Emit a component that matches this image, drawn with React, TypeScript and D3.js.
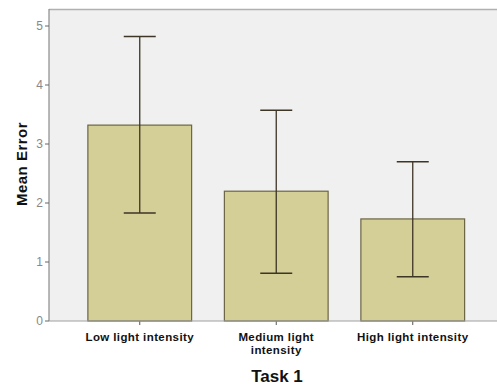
import React from 'react';
import * as d3 from 'd3';

const categories = ['Low light intensity', 'Medium light intensity', 'High light intensity'];
const labelLines = [['Low light intensity'], ['Medium light', 'intensity'], ['High light intensity']];
const means = [3.32, 2.2, 1.73];
const upper = [4.82, 3.57, 2.7];
const lower = [1.83, 0.81, 0.75];
const yTicks = [0, 1, 2, 3, 4, 5];

const width = 497;
const height = 385;
const plot = { left: 49, right: 497, top: 9, bottom: 321 };

const App = () => {
  const x = d3
    .scaleBand<string>()
    .domain(categories)
    .range([71.5, 481])
    .paddingInner(0.24)
    .paddingOuter(0.12);

  const y = d3.scaleLinear().domain([0, 5]).range([plot.bottom, 26]);
  const capW = 32;
  const font = 'Arial, "Liberation Sans", sans-serif';

  return (
    <svg
      width={width}
      height={height}
      style={{ position: 'absolute', left: 0, top: 0, background: '#fff' }}
      fontFamily={font}
    >
      <rect
        x={plot.left}
        y={plot.top}
        width={plot.right - plot.left}
        height={plot.bottom - plot.top}
        fill="#f0f0f0"
      />
      <line x1={plot.left} x2={plot.right} y1={plot.top + 0.5} y2={plot.top + 0.5} stroke="#b0b0b0" strokeWidth={1.5} />

      {categories.map((c, i) => {
        const bx = x(c)!;
        const cx = bx + x.bandwidth() / 2;
        return (
          <g key={c}>
            <rect
              x={bx}
              y={y(means[i])}
              width={x.bandwidth()}
              height={y(0) - y(means[i])}
              fill="#d4cf97"
              stroke="#6b6444"
              strokeWidth={1.2}
            />
            <line x1={cx} x2={cx} y1={y(upper[i])} y2={y(lower[i])} stroke="#3d3526" strokeWidth={1.3} />
            <line x1={cx - capW / 2} x2={cx + capW / 2} y1={y(upper[i])} y2={y(upper[i])} stroke="#3d3526" strokeWidth={1.5} />
            <line x1={cx - capW / 2} x2={cx + capW / 2} y1={y(lower[i])} y2={y(lower[i])} stroke="#3d3526" strokeWidth={1.5} />
            <line x1={cx} x2={cx} y1={plot.bottom} y2={plot.bottom + 4} stroke="#555" />
            {labelLines[i].map((t, j) => (
              <text
                key={j}
                x={cx}
                y={341 + j * 13}
                textAnchor="middle"
                fontSize={11.5}
                fontWeight="bold"
                letterSpacing={0.4}
                fill="#111"
              >
                {t}
              </text>
            ))}
          </g>
        );
      })}

      {/* axes */}
      <line x1={plot.left} x2={plot.left} y1={plot.top} y2={plot.bottom} stroke="#8a8a8a" strokeWidth={1.2} />
      <line x1={plot.left} x2={plot.right} y1={plot.bottom} y2={plot.bottom} stroke="#a0a0a0" strokeWidth={1.2} />
      {yTicks.map((t) => (
        <g key={t}>
          <line x1={plot.left - 4} x2={plot.left} y1={y(t)} y2={y(t)} stroke="#666" />
          <text x={plot.left - 6} y={y(t) + 4} textAnchor="end" fontSize={12} fill="#888">
            {t}
          </text>
        </g>
      ))}

      <text
        transform={`translate(27, 164) rotate(-90)`}
        textAnchor="middle"
        fontSize={15}
        fontWeight="bold"
        letterSpacing={0.5}
        fill="#111"
      >
        Mean Error
      </text>
      <text x={277} y={382} textAnchor="middle" fontSize={17} fontWeight="bold" fill="#111">
        Task 1
      </text>
    </svg>
  );
};

export default App;
